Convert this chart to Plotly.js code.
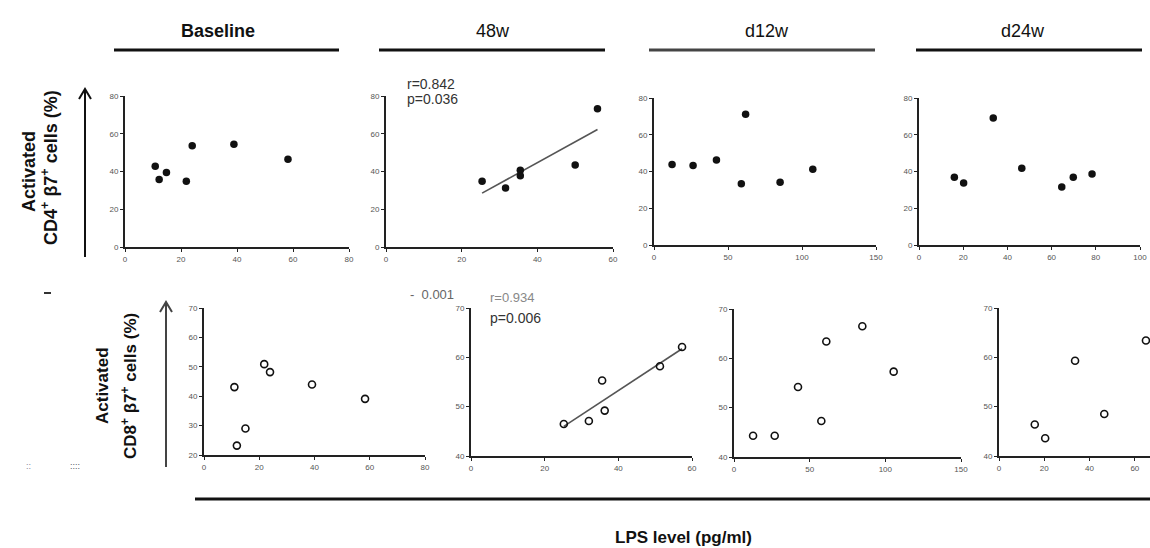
<!DOCTYPE html>
<html>
<head>
<meta charset="utf-8">
<script src="https://cdn.plot.ly/plotly-3.0.1.min.js"></script>
<style>html,body{margin:0;padding:0;background:#fff;}#chart{width:1150px;height:548px;}</style>
</head>
<body>
<div id="chart"></div>
<script>
// ---- Data ----
const periods = ["Baseline", "48w", "d12w", "d24w"];
const statsCD4_48w = ["r=0.842", "p=0.036"];
const statsCD8_48w = ["r=0.934", "p=0.006"];
const xTitle = "LPS level (pg/ml)";

const cd4_baseline_x = [10.8, 12.2, 14.8, 21.9, 24.0, 38.9, 58.2];
const cd4_baseline_y = [42.8, 35.8, 39.5, 34.9, 53.6, 54.5, 46.5];
const cd4_48w_x = [25.4, 31.6, 35.5, 35.5, 50.0, 55.9];
const cd4_48w_y = [34.9, 31.3, 40.7, 37.7, 43.5, 73.3];
const cd4_d12w_x = [12.2, 26.4, 42.2, 59.0, 61.9, 85.2, 107.3];
const cd4_d12w_y = [43.8, 43.2, 46.3, 33.3, 71.1, 34.1, 41.2];
const cd4_d24w_x = [16.0, 20.2, 33.6, 46.5, 64.6, 69.8, 78.3];
const cd4_d24w_y = [36.9, 33.8, 69.1, 41.8, 31.6, 36.9, 38.7];

const cd8_baseline_x = [11.0, 11.9, 15.0, 21.8, 23.9, 39.1, 58.3];
const cd8_baseline_y = [43.1, 23.2, 29.0, 50.9, 48.2, 44.0, 39.1];
const cd8_48w_x = [25.2, 32.0, 35.6, 36.3, 51.3, 57.3];
const cd8_48w_y = [46.5, 47.1, 55.3, 49.2, 58.2, 62.1];
const cd8_d12w_x = [12.6, 26.9, 42.3, 57.7, 61.0, 84.8, 105.5];
const cd8_d12w_y = [44.3, 44.3, 54.2, 47.3, 63.4, 66.5, 57.3];
const cd8_d24w_x = [15.8, 20.4, 33.6, 46.5, 64.9];
const cd8_d24w_y = [46.4, 43.6, 59.3, 48.5, 63.4];

// ---- Layout helpers ----
const W = 1150, H = 548;
const px = v => v / W;
const py = v => 1 - v / H;
const FONT = "Liberation Sans, Arial, sans-serif";

// panel geometry (pixels) and axis settings
const panels = [
  {x: cd4_baseline_x, y: cd4_baseline_y, filled: true,  fit: false, l:125, r:349, t:96,  b:247, xr:[0,80],  xd:20, yr:[0,80], yd:20},
  {x: cd4_48w_x,      y: cd4_48w_y,      filled: true,  fit: true,  l:386, r:613, t:96,  b:247, xr:[0,60],  xd:20, yr:[0,80], yd:20},
  {x: cd4_d12w_x,     y: cd4_d12w_y,     filled: true,  fit: false, l:654, r:876, t:98,  b:245, xr:[0,150], xd:50, yr:[0,80], yd:20},
  {x: cd4_d24w_x,     y: cd4_d24w_y,     filled: true,  fit: false, l:919, r:1140,t:98,  b:245, xr:[0,100], xd:20, yr:[0,80], yd:20},
  {x: cd8_baseline_x, y: cd8_baseline_y, filled: false, fit: false, l:204, r:425, t:308, b:455, xr:[0,80],  xd:20, yr:[20,70], yd:10},
  {x: cd8_48w_x,      y: cd8_48w_y,      filled: false, fit: true,  l:471, r:692, t:308, b:456, xr:[0,60],  xd:20, yr:[40,70], yd:10},
  {x: cd8_d12w_x,     y: cd8_d12w_y,     filled: false, fit: false, l:734, r:961, t:309, b:457, xr:[0,150], xd:50, yr:[40,70], yd:10},
  {x: cd8_d24w_x,     y: cd8_d24w_y,     filled: false, fit: false, l:999, r:1150,t:308, b:456, xr:[0,66.7],xd:20, yr:[40,70], yd:10}
];

function linfit(xs, ys) {
  const n = xs.length;
  const mx = xs.reduce((a, b) => a + b, 0) / n;
  const my = ys.reduce((a, b) => a + b, 0) / n;
  let sxy = 0, sxx = 0;
  for (let i = 0; i < n; i++) { sxy += (xs[i] - mx) * (ys[i] - my); sxx += (xs[i] - mx) ** 2; }
  const slope = sxy / sxx;
  const x0 = Math.min(...xs), x1 = Math.max(...xs);
  return {x: [x0, x1], y: [my + slope * (x0 - mx), my + slope * (x1 - mx)]};
}

const traces = [];
const layout = {
  width: W, height: H,
  margin: {l: 0, r: 0, t: 0, b: 0},
  paper_bgcolor: "#fff", plot_bgcolor: "rgba(0,0,0,0)",
  showlegend: false,
  font: {family: FONT, color: "#222"},
  annotations: [], shapes: []
};

panels.forEach((p, i) => {
  const k = i + 1;
  const xa = "x" + k, ya = "y" + k;
  const xname = k === 1 ? "xaxis" : "xaxis" + k;
  const yname = k === 1 ? "yaxis" : "yaxis" + k;
  const tickFont = {family: FONT, size: 8, color: "#555"};
  layout[xname] = {
    domain: [px(p.l), px(p.r)], range: p.xr, anchor: ya,
    dtick: p.xd, tick0: 0, showgrid: false, zeroline: false,
    showline: true, linecolor: "#222", linewidth: 2,
    ticks: "outside", ticklen: 3, tickwidth: 1, tickcolor: "#222",
    tickfont: tickFont, fixedrange: true
  };
  layout[yname] = {
    domain: [py(p.b), py(p.t)], range: p.yr, anchor: xa,
    dtick: p.yd, tick0: 0, showgrid: false, zeroline: false,
    showline: true, linecolor: "#222", linewidth: 2,
    ticks: "outside", ticklen: 3, tickwidth: 1, tickcolor: "#222",
    tickfont: tickFont, fixedrange: true
  };
  if (p.fit) {
    const f = linfit(p.x, p.y);
    traces.push({x: f.x, y: f.y, xaxis: xa, yaxis: ya, mode: "lines",
      line: {color: "#555", width: 1.6}, hoverinfo: "skip"});
  }
  traces.push({
    x: p.x, y: p.y, xaxis: xa, yaxis: ya, mode: "markers", cliponaxis: false,
    marker: p.filled
      ? {size: 7.5, color: "#111", line: {width: 0}}
      : {size: 7, color: "#111", symbol: "circle-open", line: {width: 1.6, color: "#111"}}
  });
});

// Column titles and rules beneath them
const titleCx = [218, 493, 767, 1023];
const ruleSpan = [[114, 339], [379, 605], [649, 875], [916, 1142]];
periods.forEach((t, i) => {
  layout.annotations.push({
    text: i === 0 ? "<b>" + t + "</b>" : t, xref: "paper", yref: "paper",
    x: px(titleCx[i]), y: py(31), xanchor: "center", yanchor: "middle",
    showarrow: false, font: {family: FONT, size: 18, color: "#111"}
  });
  layout.shapes.push({type: "line", xref: "paper", yref: "paper",
    x0: px(ruleSpan[i][0]), x1: px(ruleSpan[i][1]), y0: py(50), y1: py(50),
    line: {color: i === 2 ? "#444" : "#111", width: 3}});
});

// Stats text
layout.annotations.push(
  {text: statsCD4_48w[0], xref: "paper", yref: "paper", x: px(405), y: py(84), xanchor: "left", yanchor: "middle", showarrow: false, font: {family: FONT, size: 14, color: "#333"}},
  {text: statsCD4_48w[1], xref: "paper", yref: "paper", x: px(405), y: py(99), xanchor: "left", yanchor: "middle", showarrow: false, font: {family: FONT, size: 14, color: "#333"}},
  {text: statsCD8_48w[0], xref: "paper", yref: "paper", x: px(488), y: py(297), xanchor: "left", yanchor: "middle", showarrow: false, font: {family: FONT, size: 13, color: "#888"}},
  {text: statsCD8_48w[1], xref: "paper", yref: "paper", x: px(488), y: py(318), xanchor: "left", yanchor: "middle", showarrow: false, font: {family: FONT, size: 14, color: "#333"}},
  {text: "-  0.001", xref: "paper", yref: "paper", x: px(408), y: py(294), xanchor: "left", yanchor: "middle", showarrow: false, font: {family: FONT, size: 13, color: "#666"}}
);

// Y axis titles
layout.annotations.push(
  {text: "<b>Activated</b>", xref: "paper", yref: "paper", x: px(29), y: py(172), xanchor: "center", yanchor: "middle", textangle: -90, showarrow: false, font: {family: FONT, size: 18, color: "#111"}},
  {text: "<b>CD4<sup>+</sup> β7<sup>+</sup> cells (%)</b>", xref: "paper", yref: "paper", x: px(49), y: py(168), xanchor: "center", yanchor: "middle", textangle: -90, showarrow: false, font: {family: FONT, size: 18, color: "#111"}},
  {text: "<b>Activated</b>", xref: "paper", yref: "paper", x: px(102), y: py(385), xanchor: "center", yanchor: "middle", textangle: -90, showarrow: false, font: {family: FONT, size: 17, color: "#111"}},
  {text: "<b>CD8<sup>+</sup> β7<sup>+</sup> cells (%)</b>", xref: "paper", yref: "paper", x: px(129), y: py(386), xanchor: "center", yanchor: "middle", textangle: -90, showarrow: false, font: {family: FONT, size: 17, color: "#111"}}
);

// Vertical arrows beside the y titles (shaft + open chevron head)
function arrow(x, yTop, yBot, color) {
  layout.shapes.push({type: "line", xref: "paper", yref: "paper", x0: px(x), x1: px(x), y0: py(yBot), y1: py(yTop), line: {color: color, width: 2}});
  layout.shapes.push({type: "path", xref: "paper", yref: "paper",
    path: "M " + px(x - 6) + "," + py(yTop + 10) + " L " + px(x) + "," + py(yTop) + " L " + px(x + 6) + "," + py(yTop + 10),
    line: {color: color, width: 2}});
}
arrow(85, 89, 257, "#111");
arrow(166, 302, 467, "#444");

// Bottom rule and shared x title
layout.shapes.push({type: "line", xref: "paper", yref: "paper", x0: px(195), x1: 1, y0: py(499), y1: py(499), line: {color: "#111", width: 3}});
layout.annotations.push({text: "<b>" + xTitle + "</b>", xref: "paper", yref: "paper", x: px(683), y: py(537), xanchor: "center", yanchor: "middle", showarrow: false, font: {family: FONT, size: 17, color: "#111"}});

// small stray marks seen at the left
layout.shapes.push({type: "line", xref: "paper", yref: "paper", x0: px(44), x1: px(51), y0: py(293), y1: py(293), line: {color: "#333", width: 2}});
layout.annotations.push(
  {text: "::", xref: "paper", yref: "paper", x: px(28), y: py(466), xanchor: "center", yanchor: "middle", showarrow: false, font: {family: FONT, size: 9, color: "#889"}},
  {text: "::::", xref: "paper", yref: "paper", x: px(75), y: py(466), xanchor: "center", yanchor: "middle", showarrow: false, font: {family: FONT, size: 9, color: "#556"}}
);

Plotly.newPlot("chart", traces, layout, {staticPlot: true, displayModeBar: false});
</script>
</body>
</html>
